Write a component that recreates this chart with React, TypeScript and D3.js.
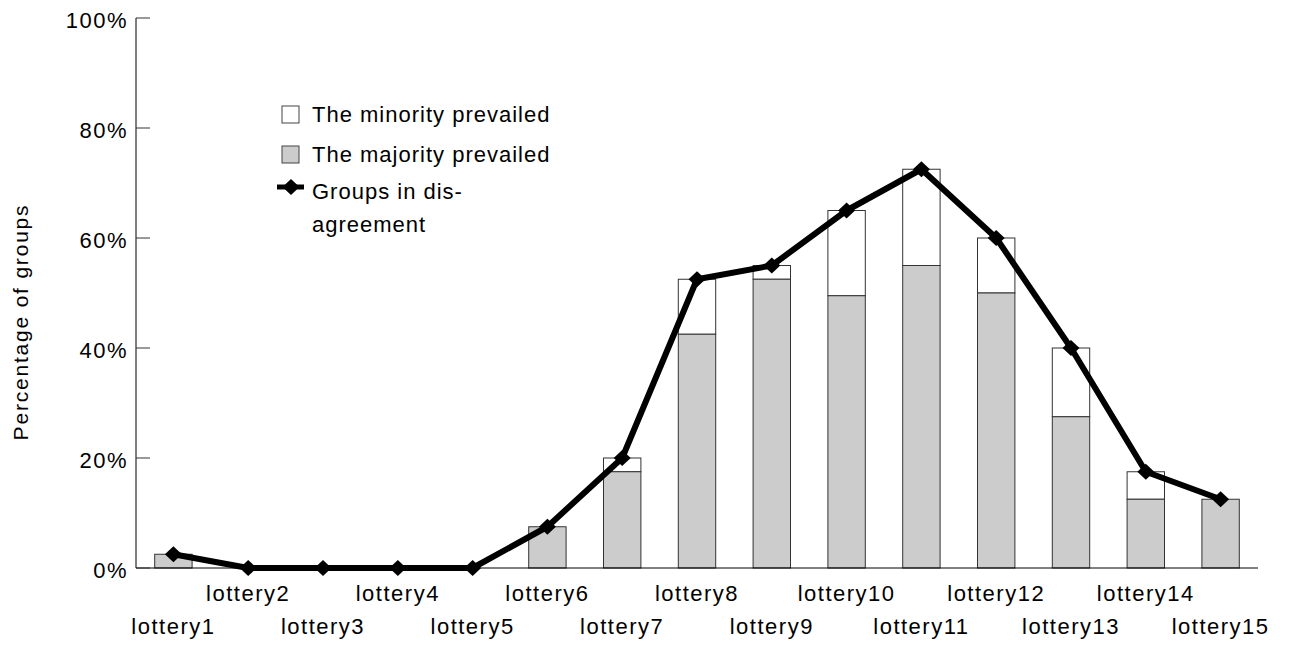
import React from 'react';
import * as d3 from 'd3';

const lotteries = ['lottery1','lottery2','lottery3','lottery4','lottery5','lottery6','lottery7','lottery8','lottery9','lottery10','lottery11','lottery12','lottery13','lottery14','lottery15'];
// % of groups where the majority prevailed
const majority = [2.5, 0, 0, 0, 0, 7.5, 17.5, 42.5, 52.5, 49.5, 55, 50, 27.5, 12.5, 12.5];
// % of groups in disagreement (majority + minority)
const disagreement = [2.5, 0, 0, 0, 0, 7.5, 20, 52.5, 55, 65, 72.5, 60, 40, 17.5, 12.5];
const yTicks = [0, 20, 40, 60, 80, 100];

const W = 1289, H = 645;
const font = 'Arial, "Liberation Sans", sans-serif';
const diamond = 'M0,-8L8.5,0L0,8L-8.5,0Z';

const App = () => {
  const x = d3.scaleBand().domain(lotteries).range([136, 1258]).paddingInner(0.5).paddingOuter(0.25);
  const y = d3.scaleLinear().domain([0, 100]).range([568, 18]);
  const cx = (d: string) => (x(d) as number) + x.bandwidth() / 2;

  const line = d3.line<number>()
    .x((d, i) => cx(lotteries[i]))
    .y(d => y(d));

  return (
    <svg width={W} height={H} style={{ display: 'block', position: 'absolute', left: 0, top: 0 }} fontFamily={font}>
      <rect width={W} height={H} fill="white" />
      {/* bars */}
      {lotteries.map((d, i) => (
        <g key={d}>
          {disagreement[i] > majority[i] && (
            <rect x={x(d)} width={x.bandwidth()} y={y(disagreement[i])} height={y(majority[i]) - y(disagreement[i])}
              fill="white" stroke="#333" strokeWidth={1} />
          )}
          {majority[i] > 0 && (
            <rect x={x(d)} width={x.bandwidth()} y={y(majority[i])} height={y(0) - y(majority[i])}
              fill="#cccccc" stroke="#333" strokeWidth={1} />
          )}
        </g>
      ))}
      {/* axes */}
      <line x1={136} x2={136} y1={y(100)} y2={y(0)} stroke="#000" strokeWidth={1} />
      <line x1={136} x2={1258} y1={y(0)} y2={y(0)} stroke="#000" strokeWidth={1} />
      {yTicks.map(t => (
        <g key={t}>
          <line x1={136} x2={150} y1={y(t)} y2={y(t)} stroke="#333" strokeWidth={1} />
          <text x={128} y={y(t) + 9.5} textAnchor="end" fontSize={22} letterSpacing={1.5}>{t}%</text>
        </g>
      ))}
      {lotteries.map((d, i) => (
        <text key={d} x={cx(d)} y={i % 2 === 0 ? 634 : 601} textAnchor="middle" fontSize={22} letterSpacing={1.5}>{d}</text>
      ))}
      <text transform={`translate(28,322) rotate(-90)`} textAnchor="middle" fontSize={21} letterSpacing={1.8}>Percentage of groups</text>
      {/* line */}
      <path d={line(disagreement) || ''} fill="none" stroke="#000" strokeWidth={6} strokeLinejoin="round" />
      {disagreement.map((v, i) => (
        <path key={i} d={diamond} transform={`translate(${cx(lotteries[i])},${y(v)})`} fill="#000" />
      ))}
      {/* legend */}
      <g fontSize={22} letterSpacing={1}>
        <rect x={282} y={106} width={17} height={17} fill="white" stroke="#444" />
        <text x={312} y={122}>The minority prevailed</text>
        <rect x={282} y={146} width={17} height={17} fill="#cccccc" stroke="#444" />
        <text x={312} y={162}>The majority prevailed</text>
        <line x1={277} x2={304} y1={187} y2={187} stroke="#000" strokeWidth={5} />
        <path d={diamond} transform="translate(291,187)" fill="#000" />
        <text x={312} y={199}>Groups in dis-</text>
        <text x={312} y={232}>agreement</text>
      </g>
    </svg>
  );
};

export default App;
